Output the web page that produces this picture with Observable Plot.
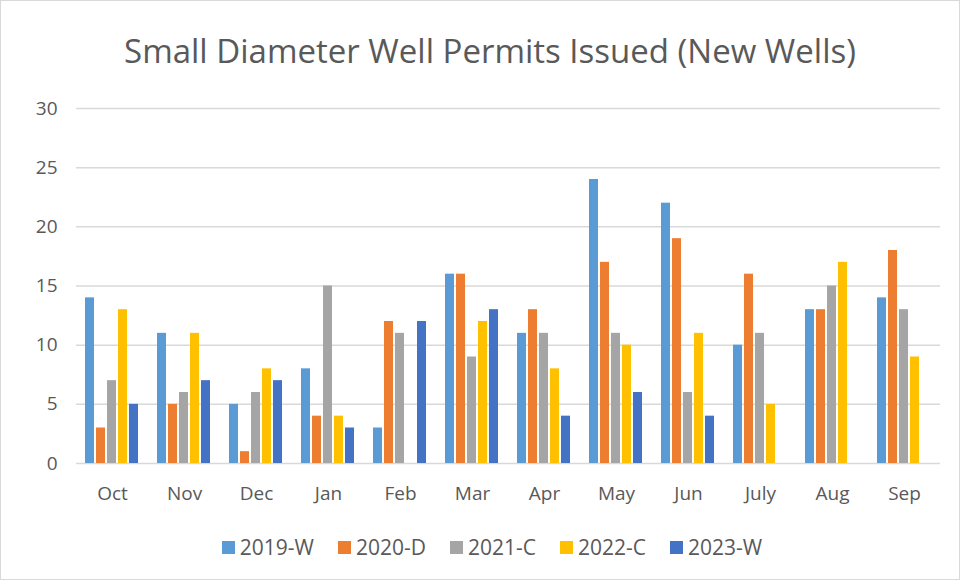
<!DOCTYPE html>
<html>
<head>
<meta charset="utf-8">
<script src="https://cdn.jsdelivr.net/npm/d3@7"></script>
<script src="https://cdn.jsdelivr.net/npm/@observablehq/plot@0.6"></script>
<style>
  html, body { margin: 0; padding: 0; background: #fff; }
  #wrap { width: 958px; height: 578px; border: 1px solid #d9d9d9; position: relative; font-family: "Open Sans", "Noto Sans", sans-serif; color: #595959; overflow: hidden; }
  #title { height: 85px; line-height: 100px; text-align: center; font-size: 33px; color: #595959; padding-left: 20px; box-sizing: border-box; }
  #legend { display: flex; justify-content: center; gap: 24px; font-size: 21px; color: #595959; margin-top: 15px; padding-left: 24px; line-height: 28px; }
  #legend .item { display: flex; align-items: center; gap: 5px; }
  #legend .sw { width: 13px; height: 13px; display: inline-block; }
</style>
</head>
<body>
<div id="wrap">
  <div id="title">Small Diameter Well Permits Issued (New Wells)</div>
  <div id="chart"></div>
  <div id="legend"></div>
</div>
<script>
const months = ["Oct", "Nov", "Dec", "Jan", "Feb", "Mar", "Apr", "May", "Jun", "July", "Aug", "Sep"];
const seriesNames = ["2019-W", "2020-D", "2021-C", "2022-C", "2023-W"];
const colors = ["#5B9BD5", "#ED7D31", "#A5A5A5", "#FFC000", "#4472C4"];
const s2019W = [14, 11, 5, 8, 3, 16, 11, 24, 22, 10, 13, 14];
const s2020D = [3, 5, 1, 4, 12, 16, 13, 17, 19, 16, 13, 18];
const s2021C = [7, 6, 6, 15, 11, 9, 11, 11, 6, 11, 15, 13];
const s2022C = [13, 11, 8, 4, null, 12, 8, 10, 11, 5, 17, 9];
const s2023W = [5, 7, 7, 3, 12, 13, 4, 6, 4, null, null, null];
const yTicks = [0, 5, 10, 15, 20, 25, 30];

const seriesValues = [s2019W, s2020D, s2021C, s2022C, s2023W];
const data = [];
months.forEach((m, i) => {
  seriesNames.forEach((s, j) => {
    const v = seriesValues[j][i];
    if (v != null) data.push({month: m, series: s, value: v});
  });
});

const chart = Plot.plot({
  width: 958,
  height: 432,
  marginTop: 22,
  marginBottom: 55,
  marginLeft: 72,
  marginRight: 16,
  style: { fontFamily: "'Open Sans', 'Noto Sans', sans-serif", fontSize: "19px", color: "#595959" },
  fx: { domain: months, padding: 0, label: null, axis: "bottom", tickSize: 0, tickPadding: 23 },
  x: { domain: seriesNames, axis: null, paddingInner: 0.18, paddingOuter: 0.8 },
  y: { domain: [0, 30], ticks: yTicks, tickSize: 0, tickPadding: 19, label: null },
  color: { domain: seriesNames, range: colors },
  facet: { data: data, x: "month" },
  marks: [
    Plot.ruleY(yTicks, { stroke: "#d9d9d9", strokeWidth: 1.5, strokeOpacity: 1 }),
    Plot.barY(data, { x: "series", y: "value", fill: "series" })
  ]
});
document.getElementById("chart").appendChild(chart);

const legend = document.getElementById("legend");
seriesNames.forEach((s, j) => {
  const it = document.createElement("div");
  it.className = "item";
  const sw = document.createElement("span");
  sw.className = "sw";
  sw.style.background = colors[j];
  const t = document.createElement("span");
  t.textContent = s;
  it.appendChild(sw);
  it.appendChild(t);
  legend.appendChild(it);
});
</script>
</body>
</html>
